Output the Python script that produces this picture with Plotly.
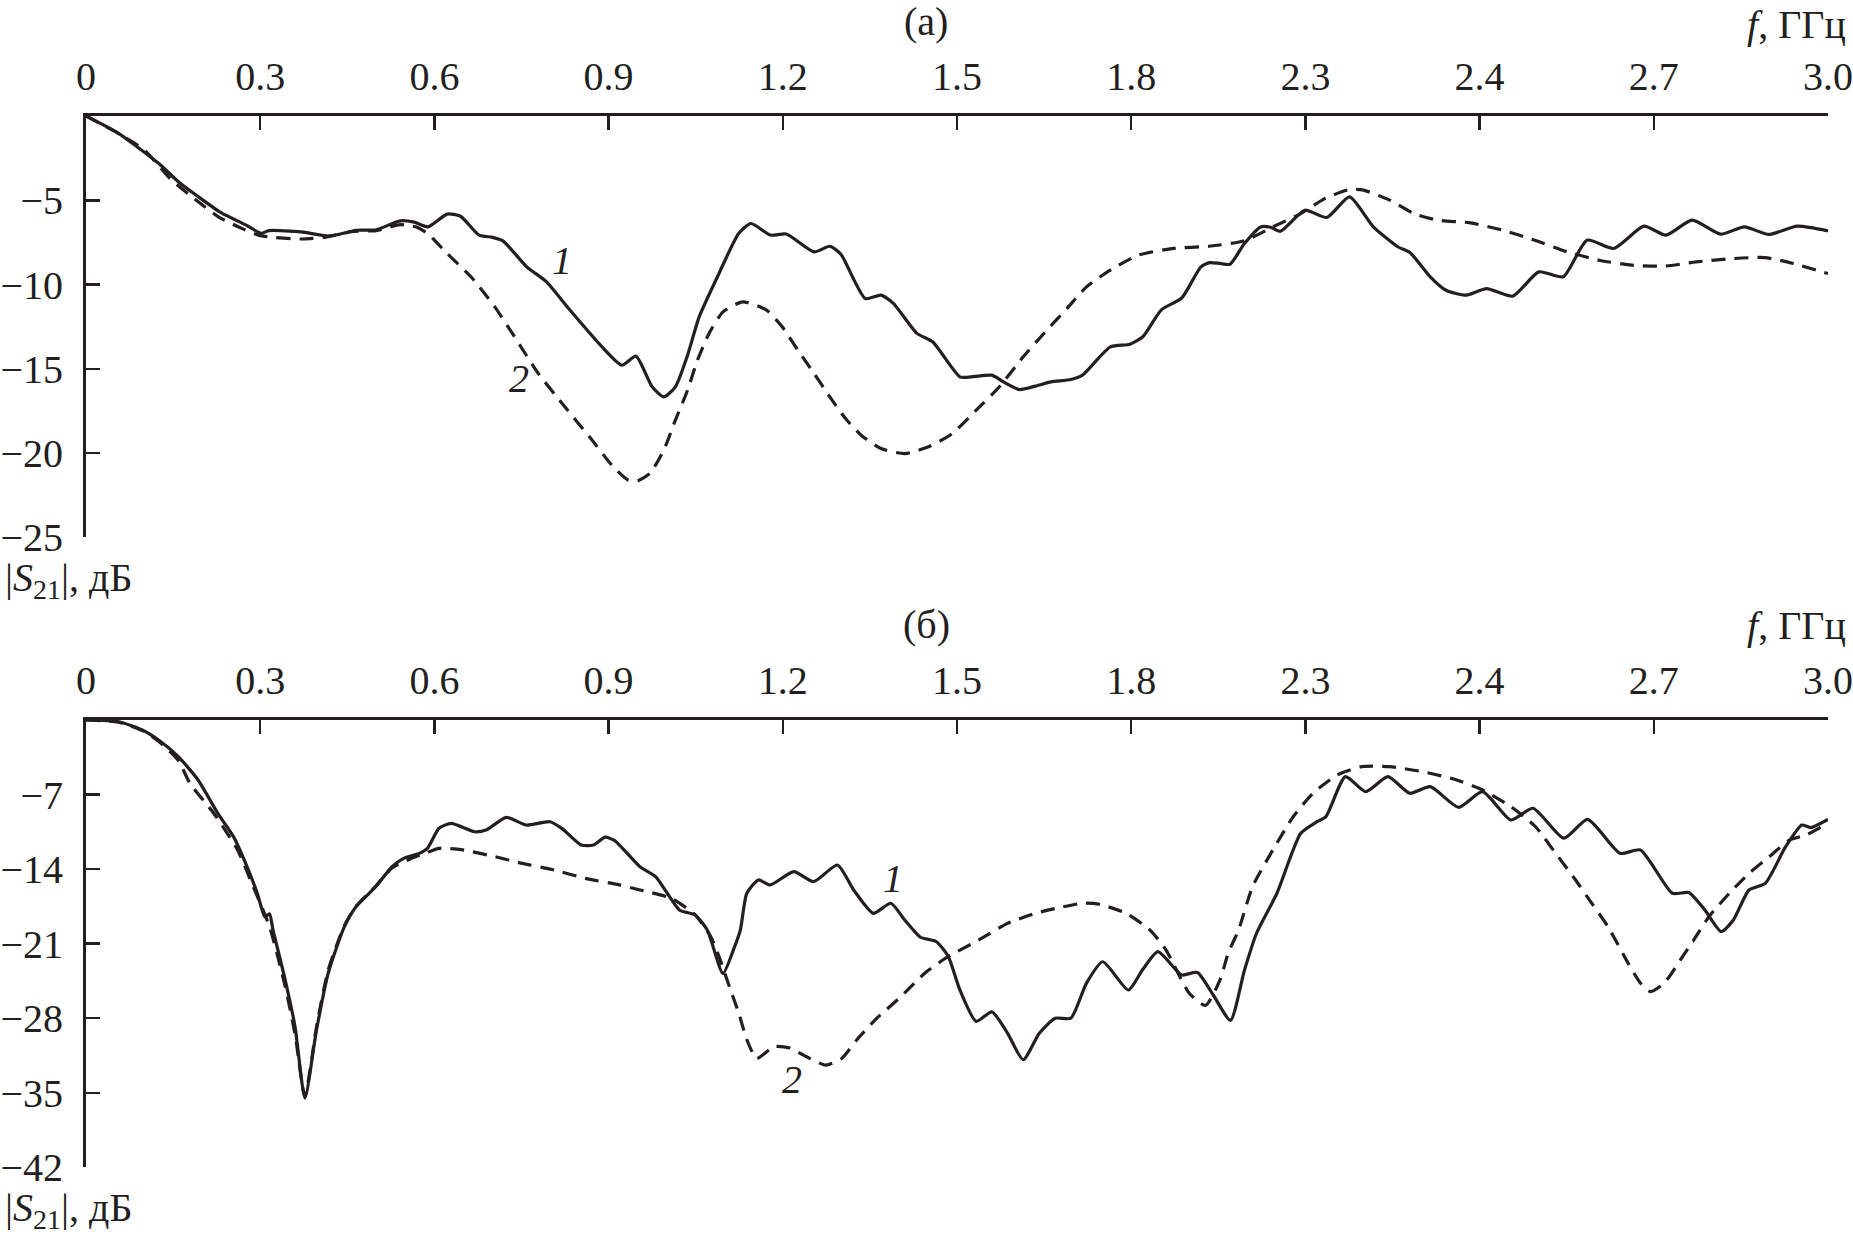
import plotly.graph_objects as go

# ---------------- data ----------------
tick_vals = [0, 0.3, 0.6, 0.9, 1.2, 1.5, 1.8, 2.1, 2.4, 2.7, 3.0]
tick_text = ["0", "0.3", "0.6", "0.9", "1.2", "1.5", "1.8", "2.3", "2.4", "2.7", "3.0"]

top_yvals = [-5, -10, -15, -20, -25]
top_ytext = ["\u22125", "\u221210", "\u221215", "\u221220", "\u221225"]
bot_yvals = [-7, -14, -21, -28, -35, -42]
bot_ytext = ["\u22127", "\u221214", "\u221221", "\u221228", "\u221235", "\u221242"]

# panel (a), curve 1 (solid)
a1_f = [0, 0.056, 0.125, 0.159, 0.193, 0.234, 0.275, 0.302, 0.315, 0.371, 0.418, 0.466, 0.5, 0.541,
        0.565, 0.589, 0.622, 0.645, 0.677, 0.70, 0.718, 0.759, 0.793, 0.833, 0.886, 0.923, 0.947,
        0.975, 0.995, 1.015, 1.036, 1.056, 1.09, 1.124, 1.145, 1.179, 1.206, 1.254, 1.281, 1.30,
        1.342, 1.369, 1.39, 1.431, 1.458, 1.505, 1.52, 1.56, 1.58, 1.607, 1.635, 1.662, 1.696,
        1.716, 1.764, 1.798, 1.82, 1.852, 1.887, 1.92, 1.935, 1.953, 1.97, 1.995, 2.023, 2.04,
        2.057, 2.099, 2.137, 2.176, 2.217, 2.259, 2.28, 2.315, 2.342, 2.377, 2.412, 2.457, 2.502,
        2.544, 2.585, 2.631, 2.683, 2.721, 2.766, 2.815, 2.856, 2.898, 2.947, 3.0]
a1_db = [0, -1.03, -2.81, -3.9, -4.78, -5.77, -6.46, -6.96, -6.8, -6.88, -7.13, -6.78, -6.75, -6.22,
         -6.3, -6.58, -5.82, -5.95, -7.07, -7.2, -7.41, -8.95, -9.84, -11.5, -13.6, -14.79, -14.25,
         -16.07, -16.67, -16.07, -14.19, -11.92, -9.35, -6.97, -6.38, -7.07, -7.0, -8.06, -7.73, -8.2,
         -10.83, -10.63, -11.1, -12.9, -13.4, -15.48, -15.5, -15.38, -15.78, -16.23, -16.03, -15.78, -15.64,
         -15.38, -13.7, -13.54, -13.1, -11.5, -10.8, -8.95, -8.7, -8.75, -8.8, -7.57, -6.58, -6.6,
         -6.84, -5.59, -6.02, -4.80, -6.58, -7.76, -8.1, -9.54, -10.34, -10.63, -10.24, -10.69, -9.25,
         -9.54, -7.37, -7.86, -6.54, -7.07, -6.18, -7.01, -6.58, -7.03, -6.54, -6.82]

# panel (a), curve 2 (dashed)
a2_f = [0, 0.056, 0.1, 0.146, 0.19, 0.228, 0.27, 0.3, 0.371, 0.41, 0.46, 0.5, 0.541, 0.57, 0.589,
        0.622, 0.663, 0.704, 0.738, 0.779, 0.82, 0.867, 0.908, 0.934, 0.95, 0.971, 0.995, 1.015,
        1.036, 1.053, 1.073, 1.097, 1.131, 1.172, 1.199, 1.226, 1.254, 1.281, 1.308, 1.335, 1.369,
        1.41, 1.451, 1.492, 1.533, 1.573, 1.614, 1.655, 1.69, 1.723, 1.764, 1.812, 1.873, 1.934,
        1.995, 2.044, 2.092, 2.134, 2.176, 2.20, 2.245, 2.287, 2.328, 2.384, 2.44, 2.495, 2.551,
        2.606, 2.662, 2.718, 2.773, 2.836, 2.891, 2.94, 3.0]
a2_db = [0, -1.05, -2.0, -3.75, -5.0, -5.98, -6.7, -7.1, -7.3, -7.2, -6.85, -6.8, -6.45, -6.6, -7.0,
         -8.16, -9.54, -11.33, -13.1, -15.28, -17.06, -19.04, -20.82, -21.61, -21.65, -21.21, -19.83, -18.05,
         -16.27, -14.49, -12.9, -11.62, -11.03, -11.52, -12.51, -13.9, -15.28, -16.67, -17.95, -18.94, -19.73,
         -20.03, -19.63, -18.84, -17.46, -16.07, -14.29, -12.7, -11.4, -10.14, -9.15, -8.26, -7.86, -7.73,
         -7.4, -6.58, -5.79, -4.89, -4.36, -4.4, -4.99, -5.79, -6.18, -6.34, -6.78, -7.37, -8.06,
         -8.56, -8.85, -8.91, -8.66, -8.46, -8.4, -8.75, -9.35]

# panel (б), curve 1 (solid)
b1_f = [0, 0.056, 0.097, 0.125, 0.159, 0.193, 0.227, 0.254, 0.275, 0.295, 0.308, 0.316, 0.322, 0.343,
        0.36, 0.377, 0.397, 0.417, 0.445, 0.465, 0.499, 0.527, 0.547, 0.574, 0.588, 0.608, 0.629,
        0.669, 0.69, 0.724, 0.758, 0.799, 0.82, 0.853, 0.874, 0.894, 0.91, 0.954, 0.981, 1.022,
        1.049, 1.07, 1.097, 1.117, 1.127, 1.138, 1.158, 1.178, 1.219, 1.253, 1.294, 1.322, 1.356,
        1.386, 1.41, 1.437, 1.464, 1.485, 1.505, 1.533, 1.56, 1.587, 1.614, 1.642, 1.669, 1.696,
        1.723, 1.751, 1.795, 1.819, 1.846, 1.887, 1.914, 1.941, 1.971, 1.995, 2.016, 2.051, 2.092,
        2.12, 2.135, 2.169, 2.204, 2.242, 2.28, 2.315, 2.364, 2.405, 2.454, 2.492, 2.545, 2.586,
        2.642, 2.677, 2.732, 2.76, 2.788, 2.816, 2.837, 2.864, 2.892, 2.927, 2.955, 2.97, 3.0]
b1_db = [0, -0.16, -0.94, -1.88, -3.44, -5.63, -8.76, -10.95, -13.46, -16.27, -18.47, -18.2, -19.7, -24.4,
         -28.8, -35.5, -29.1, -23.8, -19.4, -17.53, -15.65, -13.78, -12.99, -12.52, -12.05, -10.17, -9.7,
         -10.49, -10.3, -9.14, -9.86, -9.55, -10.2, -11.74, -11.74, -11.0, -11.3, -13.77, -14.71, -17.84,
         -18.31, -19.72, -23.79, -21.28, -19.7, -16.27, -15.02, -15.49, -14.24, -15.18, -13.62, -15.96, -18.15,
         -17.21, -18.78, -20.4, -20.8, -22.2, -25.35, -28.3, -27.4, -29.4, -31.9, -29.4, -28.0, -28.0,
         -24.7, -22.7, -25.35, -23.5, -21.75, -23.94, -23.7, -25.8, -28.2, -23.5, -20.0, -16.27, -10.64,
         -9.55, -9.1, -5.32, -6.73, -5.32, -6.88, -6.26, -8.2, -6.73, -9.39, -8.29, -11.1, -9.33,
         -12.52, -12.2, -16.27, -16.2, -17.84, -19.87, -18.78, -15.96, -15.34, -11.9, -9.86, -10.1, -9.33]

# panel (б), curve 2 (dashed)
b2_f = [0, 0.056, 0.097, 0.125, 0.159, 0.179, 0.22, 0.261, 0.288, 0.316, 0.343, 0.36, 0.377, 0.397,
        0.417, 0.445, 0.465, 0.499, 0.527, 0.56, 0.585, 0.608, 0.649, 0.704, 0.751, 0.806, 0.86,
        0.92, 0.954, 1.008, 1.049, 1.076, 1.09, 1.11, 1.124, 1.138, 1.155, 1.185, 1.212, 1.24,
        1.274, 1.301, 1.328, 1.362, 1.403, 1.444, 1.485, 1.533, 1.587, 1.635, 1.669, 1.717, 1.745,
        1.791, 1.832, 1.86, 1.9, 1.928, 1.953, 1.967, 1.985, 2.009, 2.044, 2.079, 2.113, 2.155,
        2.197, 2.245, 2.301, 2.357, 2.405, 2.454, 2.496, 2.531, 2.565, 2.593, 2.621, 2.656, 2.677,
        2.694, 2.718, 2.746, 2.767, 2.795, 2.83, 2.864, 2.899, 2.934, 2.962, 3.0]
b2_db = [0, -0.2, -1.0, -2.0, -3.8, -5.95, -8.76, -12.2, -15.65, -19.4, -25.0, -29.5, -35.3, -28.8,
         -23.5, -19.3, -17.5, -15.6, -13.9, -13.0, -12.5, -12.05, -12.2, -12.83, -13.46, -14.08, -14.87,
         -15.5, -15.96, -16.74, -18.3, -20.35, -22.2, -25.35, -27.5, -30.0, -31.78, -30.67, -30.8, -31.6,
         -32.4, -31.8, -30.0, -28.0, -26.0, -23.8, -22.2, -20.8, -19.1, -18.15, -17.7, -17.2, -17.3,
         -18.15, -19.7, -21.6, -25.66, -26.8, -24.4, -21.9, -19.7, -15.65, -12.2, -9.08, -6.88, -5.16,
         -4.38, -4.38, -4.85, -5.57, -6.57, -8.14, -10.0, -12.52, -15.0, -17.2, -19.4, -22.85, -24.7,
         -25.5, -24.7, -22.5, -20.8, -18.47, -16.27, -14.4, -12.83, -11.27, -10.8, -9.7]

# ---------------- styling / layout ----------------
W, H = 1853, 1245
INK = "#231f20"
FONT = "Liberation Serif"
FS = 40
X0, X1 = 85.8, 1827.6          # plot area left/right (px)
TOP = (116.0, 537.3)           # panel (а) top/bottom (px)
BOT = (720.0, 1167.3)          # panel (б) top/bottom (px)

def py(y):
    return 1 - y / H

def px(x):
    return (x - X0) / (X1 - X0)

fig = go.Figure()

def line(f, db, xa, ya, dashed):
    fig.add_trace(go.Scatter(
        x=f, y=db, xaxis=xa, yaxis=ya, mode="lines",
        line=dict(color=INK, width=3.2, shape="spline", smoothing=0.6,
                  dash="14px,9px" if dashed else "solid"),
        showlegend=False, hoverinfo="skip"))

line(a2_f, a2_db, "x", "y", True)
line(a1_f, a1_db, "x", "y", False)
line(b2_f, b2_db, "x2", "y2", True)
line(b1_f, b1_db, "x2", "y2", False)

xcommon = dict(range=[0, 3.0], tickvals=tick_vals, ticktext=tick_text, side="top",
               ticks="inside", ticklen=14, tickwidth=2.5, tickcolor=INK,
               showline=True, linewidth=3, linecolor=INK, showgrid=False, zeroline=False,
               tickfont=dict(family=FONT, size=FS, color=INK), ticklabelstandoff=7,
               automargin=False, fixedrange=True, domain=[0, 1])
ycommon = dict(ticks="inside", ticklen=14, tickwidth=2.5, tickcolor=INK,
               showline=True, linewidth=3, linecolor=INK, showgrid=False, zeroline=False,
               tickfont=dict(family=FONT, size=FS, color=INK), ticklabelstandoff=12,
               automargin=False, fixedrange=True)

fig.update_layout(
    width=W, height=H, template="none",
    paper_bgcolor="white", plot_bgcolor="white",
    margin=dict(l=X0, r=W - X1, t=0, b=0, autoexpand=False),
    xaxis=dict(**xcommon, anchor="y"),
    yaxis=dict(**ycommon, anchor="x", range=[-25, 0], tickvals=top_yvals, ticktext=top_ytext,
               domain=[py(TOP[1]), py(TOP[0])]),
    xaxis2=dict(**xcommon, anchor="y2"),
    yaxis2=dict(**ycommon, anchor="x2", range=[-42, 0], tickvals=bot_yvals, ticktext=bot_ytext,
                domain=[py(BOT[1]), py(BOT[0])]),
)

def ann(text, x, y, xanchor="center"):
    fig.add_annotation(text=text, x=x, y=y, xref="paper", yref="paper", showarrow=False,
                       xanchor=xanchor, yanchor="middle",
                       font=dict(family=FONT, size=FS, color=INK))

# panel titles and axis titles
ann("(\u0430)", px(926), py(22))
ann("(\u0431)", px(926), py(624))
ann("<i>f</i>, \u0413\u0413\u0446", px(1745), py(24), xanchor="left")
ann("<i>f</i>, \u0413\u0413\u0446", px(1745), py(625), xanchor="left")
ann("|<i>S</i><sub>21</sub>|, \u0434\u0411", px(3), py(580), xanchor="left")
ann("|<i>S</i><sub>21</sub>|, \u0434\u0411", px(3), py(1210), xanchor="left")

# curve labels
def clabel(t, x, y, xr, yr):
    fig.add_annotation(text="<i>%s</i>" % t, x=x, y=y, xref=xr, yref=yr, showarrow=False,
                       font=dict(family=FONT, size=FS, color=INK))

clabel("1", 0.82, -8.6, "x", "y")
clabel("2", 0.746, -15.6, "x", "y")
clabel("1", 1.39, -14.9, "x2", "y2")
clabel("2", 1.216, -33.8, "x2", "y2")

fig.write_html(
    "out.html",
    config={"displayModeBar": False, "staticPlot": True},
    post_script="document.body.style.margin='0';document.body.style.overflow='hidden';",
)
